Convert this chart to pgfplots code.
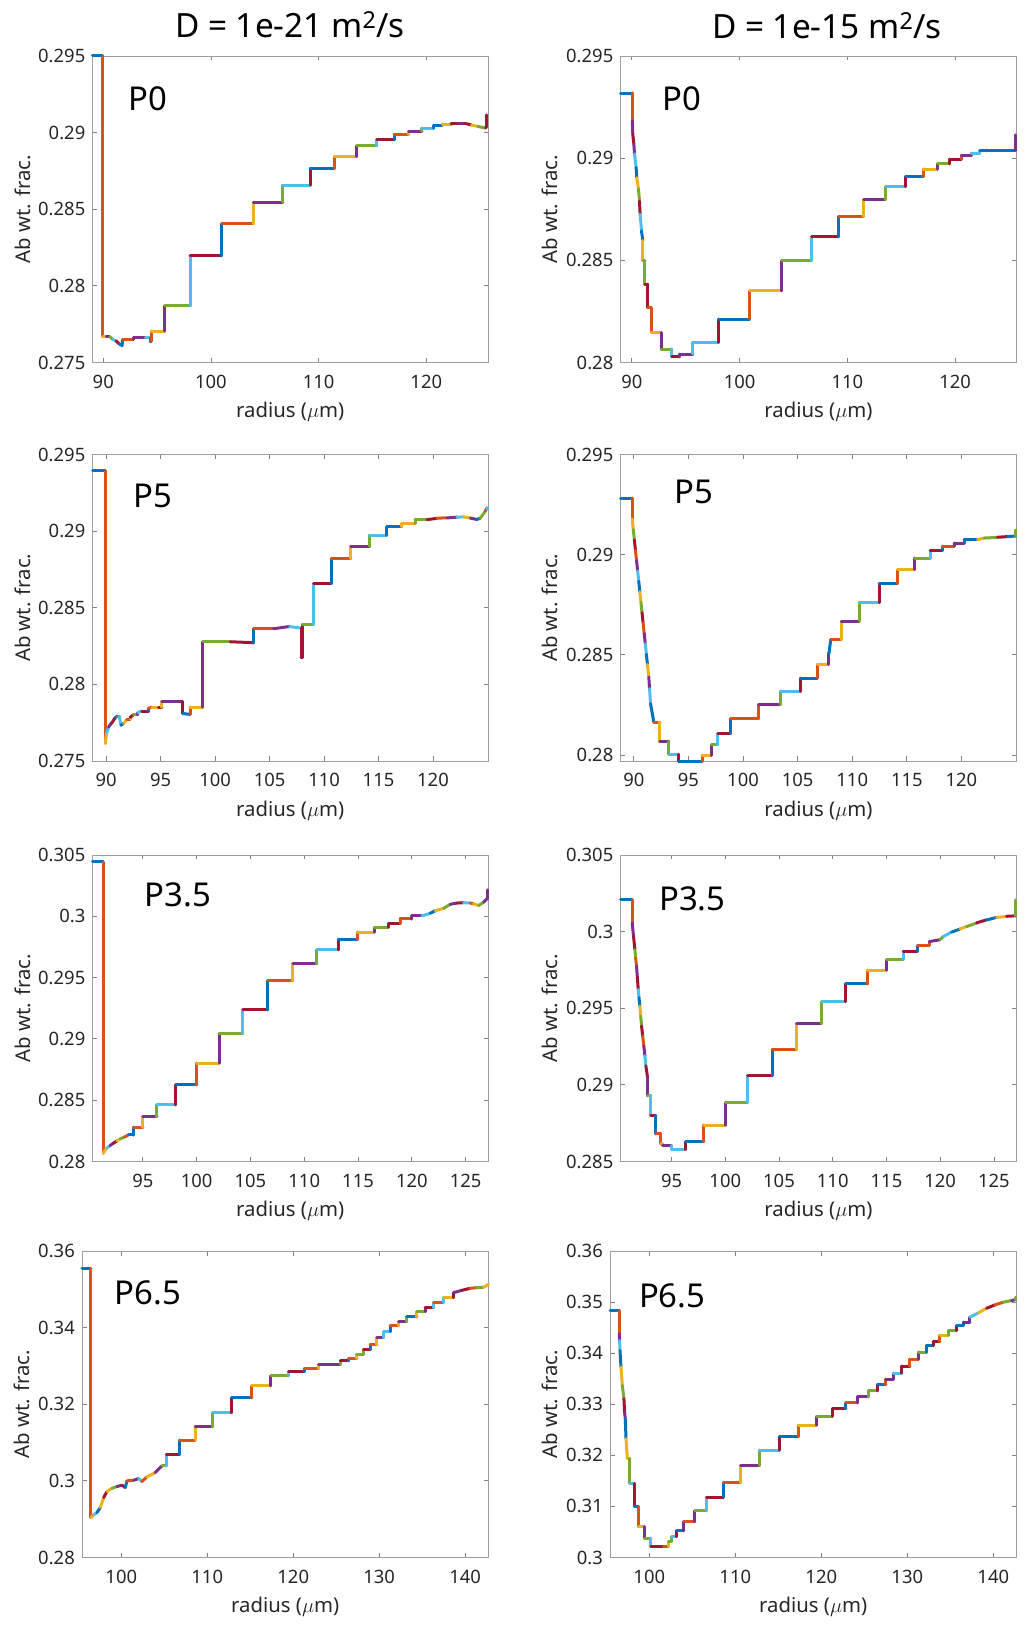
\documentclass[border=0pt]{standalone}
\usepackage{fontspec}
\setmainfont{Noto Sans}
\usepackage{pgfplots}
\usepackage{pgfplotstable}
\pgfplotsset{compat=1.18}
\definecolor{tickgray}{HTML}{262626}

% each table: x y c  (c = colour index of the segment starting at that point)
\pgfplotstableread[row sep=\\]{
x y c\\
89.0 0.2950 0\\ 89.95 0.2950 1\\ 89.95 0.27668 2\\ 90.3 0.27668 3\\ 90.6 0.27668 4\\
90.9 0.2765 5\\ 91.2 0.2764 6\\ 91.5 0.2762 0\\ 91.75 0.2761 0\\ 91.8 0.2765 1\\
92.8 0.2765 3\\ 92.8 0.2766 3\\ 93.9 0.2766 5\\ 94.35 0.2766 0\\ 94.35 0.2764 0\\
94.45 0.2764 1\\ 94.45 0.27705 2\\ 95.73 0.27705 3\\ 95.73 0.27869 4\\ 98.06 0.27869 5\\
98.06 0.28197 6\\ 101.0 0.28197 0\\ 101.0 0.28404 1\\ 103.94 0.28404 2\\ 103.94 0.28546 3\\
106.67 0.28546 4\\ 106.67 0.28657 5\\ 109.2 0.28657 6\\ 109.2 0.28766 0\\ 111.47 0.28766 1\\
111.47 0.28843 2\\ 113.55 0.28843 3\\ 113.55 0.28913 4\\ 115.4 0.28913 5\\ 115.4 0.28954 6\\
117.0 0.28954 0\\ 117.0 0.28987 1\\ 118.35 0.28987 2\\ 118.35 0.29009 3\\ 119.6 0.29009 4\\
119.6 0.2903 5\\ 120.7 0.2903 0\\ 120.7 0.29048 0\\ 121.5 0.29048 1\\ 121.5 0.29055 2\\
122.3 0.29055 4\\ 122.3 0.2906 6\\ 123.0 0.2906 3\\ 123.6 0.2906 6\\ 124.2 0.2905 2\\
124.8 0.2904 4\\ 125.5 0.2903 6\\ 125.6 0.2904 6\\ 125.6 0.29116 6\\
}\dA
\pgfplotstableread[row sep=\\]{
x y c\\
88.95 0.29318 0\\ 90.05 0.29318 1\\ 90.05 0.29183 3\\ 90.09 0.29117 6\\ 90.19 0.29069 3\\
90.25 0.2902 5\\ 90.4 0.28954 0\\ 90.46 0.28905 2\\ 90.62 0.28848 4\\ 90.71 0.28791 6\\
90.77 0.28726 5\\ 90.9 0.28644 0\\ 91.02 0.28595 2\\ 91.02 0.28498 4\\ 91.21 0.28498 4\\
91.21 0.28383 6\\ 91.49 0.28383 6\\ 91.49 0.28269 1\\ 91.8 0.28269 1\\ 91.8 0.28147 2\\
92.72 0.28147 3\\ 92.72 0.28065 4\\ 93.72 0.28065 5\\ 93.72 0.28028 6\\ 94.43 0.28028 3\\
94.43 0.28041 3\\ 95.67 0.28041 5\\ 95.67 0.28098 5\\ 98.05 0.28098 6\\ 98.05 0.28212 0\\
100.93 0.28212 1\\ 100.93 0.2835 2\\ 103.93 0.2835 3\\ 103.93 0.28498 4\\ 106.69 0.28498 5\\
106.69 0.28615 6\\ 109.2 0.28615 0\\ 109.2 0.28715 1\\ 111.52 0.28715 2\\ 111.52 0.28796 3\\
113.56 0.28796 4\\ 113.56 0.28861 5\\ 115.39 0.28861 6\\ 115.39 0.2891 0\\ 117.03 0.2891 1\\
117.03 0.28946 2\\ 118.36 0.28946 3\\ 118.36 0.28972 4\\ 119.5 0.28972 6\\ 119.5 0.28995 6\\
120.59 0.28995 1\\ 120.59 0.29015 3\\ 121.52 0.29015 3\\ 121.52 0.29024 5\\ 122.29 0.29024 5\\
122.29 0.29036 0\\ 122.91 0.29036 0\\ 122.91 0.29039 0\\ 125.63 0.29039 3\\ 125.63 0.29114 3\\
}\dB
\pgfplotstableread[row sep=\\]{
x y c\\
88.75 0.29396 0\\ 89.91 0.29396 1\\ 89.91 0.27615 2\\ 90.05 0.27685 5\\ 90.21 0.2772 3\\
90.52 0.2775 6\\ 90.83 0.27783 0\\ 91.04 0.27793 1\\ 91.2 0.27793 5\\ 91.35 0.27733 0\\
91.6 0.27745 2\\ 91.9 0.27772 1\\ 92.2 0.27772 2\\ 92.2 0.27785 6\\ 92.51 0.27802 4\\
92.9 0.27802 3\\ 92.9 0.27815 5\\ 93.28 0.27826 6\\ 93.9 0.27826 0\\ 93.9 0.27845 1\\
94.19 0.27852 2\\ 94.8 0.27852 6\\ 95.11 0.27852 2\\ 95.11 0.27889 3\\ 97.0 0.27889 6\\
97.0 0.27811 0\\ 97.71 0.27804 1\\ 97.71 0.27852 2\\ 98.88 0.27852 3\\ 98.88 0.28278 4\\
101.39 0.28278 6\\ 103.53 0.28272 0\\ 103.53 0.28363 1\\ 105.37 0.28363 3\\ 106.84 0.28378 5\\
107.9 0.28367 6\\ 107.9 0.28174 6\\ 108.0 0.28174 6\\ 108.0 0.28391 4\\ 109.04 0.28391 5\\
109.04 0.28657 6\\ 110.66 0.28657 0\\ 110.66 0.28822 1\\ 112.47 0.28822 2\\ 112.47 0.28902 3\\
114.18 0.28902 4\\ 114.18 0.28974 5\\ 115.77 0.28974 0\\ 115.77 0.29028 0\\ 117.15 0.29028 2\\
117.15 0.2905 2\\ 118.37 0.2905 4\\ 118.37 0.29076 4\\ 119.45 0.29076 6\\ 120.36 0.29083 1\\
121.28 0.29087 3\\ 122.2 0.29091 5\\ 122.81 0.29093 2\\ 123.43 0.29085 3\\ 124.04 0.29076 0\\
124.34 0.29085 4\\ 124.8 0.2913 1\\ 124.95 0.29152 5\\ 125.05 0.2914 5\\
}\dC
\pgfplotstableread[row sep=\\]{
x y c\\
88.78 0.29282 0\\ 89.85 0.29282 1\\ 89.85 0.29178 2\\ 89.95 0.29126 4\\ 90.05 0.29074 6\\
90.15 0.29022 1\\ 90.25 0.2897 3\\ 90.35 0.28918 5\\ 90.45 0.28867 0\\ 90.55 0.28815 2\\
90.65 0.28763 4\\ 90.75 0.28711 6\\ 90.85 0.28659 1\\ 90.95 0.28607 3\\ 91.05 0.28555 5\\
91.15 0.28503 0\\ 91.25 0.28451 2\\ 91.37 0.28389 3\\ 91.44 0.28331 5\\ 91.53 0.28256 0\\
91.83 0.28164 1\\ 92.38 0.28164 2\\ 92.38 0.28065 3\\ 93.21 0.28065 4\\ 93.21 0.28003 5\\
94.12 0.28003 6\\ 94.12 0.27968 0\\ 96.26 0.27968 1\\ 96.26 0.27998 2\\ 97.09 0.27998 3\\
97.09 0.28051 4\\ 97.7 0.28051 5\\ 97.7 0.28106 6\\ 98.86 0.28106 0\\ 98.86 0.28181 1\\
101.46 0.28181 1\\ 101.46 0.28252 3\\ 103.44 0.28252 4\\ 103.44 0.28319 5\\ 105.28 0.28319 6\\
105.28 0.28384 0\\ 106.8 0.28384 1\\ 106.8 0.28452 2\\ 107.87 0.28452 3\\ 107.87 0.28508 0\\
108.03 0.28576 1\\ 109.0 0.28576 2\\ 109.0 0.28668 3\\ 110.62 0.28668 4\\ 110.62 0.28762 5\\
112.46 0.28762 6\\ 112.46 0.28854 0\\ 114.14 0.28854 1\\ 114.14 0.28925 2\\ 115.73 0.28925 3\\
115.73 0.28983 4\\ 117.13 0.28983 5\\ 117.13 0.2902 6\\ 118.26 0.2902 0\\ 118.26 0.29043 1\\
119.33 0.29043 3\\ 119.33 0.29058 3\\ 120.25 0.29058 0\\ 120.25 0.29075 0\\ 121.47 0.29075 2\\
122.08 0.29083 4\\ 123.3 0.29086 6\\ 124.22 0.2909 0\\ 124.98 0.29093 4\\ 124.98 0.29123 4\\
}\dD
\pgfplotstableread[row sep=\\]{
x y c\\
90.32 0.30443 0\\ 91.3 0.30443 1\\ 91.3 0.28068 2\\ 91.65 0.28109 5\\ 91.95 0.2813 3\\
92.27 0.2815 6\\ 92.6 0.28168 2\\ 92.89 0.28185 4\\ 93.3 0.282 1\\ 93.67 0.28217 0\\
94.13 0.28217 0\\ 94.13 0.2828 1\\ 95.0 0.2828 2\\ 95.0 0.28367 3\\ 96.3 0.28367 4\\
96.3 0.28462 5\\ 98.07 0.28462 6\\ 98.07 0.28625 0\\ 100.02 0.28625 1\\ 100.02 0.28802 2\\
102.1 0.28802 3\\ 102.1 0.29046 4\\ 104.3 0.29046 5\\ 104.3 0.29236 6\\ 106.62 0.29236 0\\
106.62 0.29476 1\\ 108.94 0.29476 2\\ 108.94 0.29611 3\\ 111.18 0.29611 4\\ 111.18 0.29726 5\\
113.19 0.29726 6\\ 113.19 0.29813 0\\ 114.96 0.29813 1\\ 114.96 0.2987 2\\ 116.51 0.2987 3\\
116.51 0.2991 4\\ 117.84 0.2991 6\\ 117.84 0.29943 6\\ 118.92 0.29943 1\\ 118.92 0.29978 1\\
120.01 0.29978 3\\ 120.01 0.30003 3\\ 120.94 0.30003 5\\ 121.71 0.30024 0\\ 122.18 0.30045 2\\
122.95 0.30065 4\\ 123.57 0.30098 3\\ 124.19 0.30108 6\\ 124.81 0.30111 5\\ 125.43 0.30108 1\\
125.74 0.30101 2\\ 126.21 0.30087 4\\ 126.67 0.30115 3\\ 127.04 0.30147 3\\ 127.04 0.30215 3\\
}\dE
\pgfplotstableread[row sep=\\]{
x y c\\
90.25 0.30207 0\\ 91.34 0.30207 1\\ 91.34 0.30056 3\\ 91.46 0.2997 6\\ 91.59 0.29882 4\\
91.66 0.2983 1\\ 91.74 0.29774 3\\ 91.82 0.297 6\\ 91.9 0.29622 5\\ 91.97 0.2957 0\\
92.05 0.29514 2\\ 92.13 0.2945 4\\ 92.21 0.29384 6\\ 92.31 0.2932 1\\ 92.42 0.29254 3\\
92.52 0.2919 5\\ 92.61 0.29124 6\\ 92.77 0.29048 3\\ 92.77 0.28929 4\\ 93.08 0.28929 5\\
93.08 0.28799 6\\ 93.54 0.28799 0\\ 93.54 0.2868 1\\ 94.0 0.2868 1\\ 94.0 0.28615 2\\
94.16 0.28615 2\\ 94.16 0.28604 3\\ 95.0 0.28604 5\\ 95.0 0.28578 5\\ 96.3 0.28578 6\\
96.3 0.2863 0\\ 98.01 0.2863 1\\ 98.01 0.28738 2\\ 100.03 0.28738 3\\ 100.03 0.28886 4\\
102.07 0.28886 5\\ 102.07 0.29059 6\\ 104.37 0.29059 0\\ 104.37 0.29232 1\\ 106.64 0.29232 2\\
106.64 0.29401 3\\ 108.96 0.29401 4\\ 108.96 0.29542 5\\ 111.2 0.29542 6\\ 111.2 0.29659 0\\
113.21 0.29659 1\\ 113.21 0.29748 2\\ 115.01 0.29748 3\\ 115.01 0.29817 4\\ 116.56 0.29817 5\\
116.56 0.29872 6\\ 117.87 0.29872 0\\ 117.87 0.29911 1\\ 118.98 0.29911 1\\ 118.98 0.29935 3\\
119.98 0.29947 4\\ 120.29 0.29969 5\\ 121.06 0.29997 0\\ 121.84 0.30017 2\\ 122.46 0.30034 4\\
123.39 0.30056 6\\ 124.32 0.30077 0\\ 125.25 0.30093 2\\ 126.18 0.30099 6\\ 127.02 0.30103 4\\
127.02 0.30207 4\\
}\dF
\pgfplotstableread[row sep=\\]{
x y c\\
95.43 0.35539 0\\ 96.47 0.35539 1\\ 96.47 0.29043 2\\ 96.8 0.2912 5\\ 97.17 0.29174 0\\
97.56 0.29304 2\\ 97.95 0.29565 6\\ 98.33 0.29722 2\\ 98.91 0.29809 4\\ 99.5 0.29852 3\\
100.08 0.29887 6\\ 100.47 0.29826 0\\ 100.66 0.3 1\\ 101.43 0.30017 3\\ 102.02 0.30061 5\\
102.4 0.29983 1\\ 102.98 0.30104 2\\ 103.95 0.30217 3\\ 104.73 0.30391 4\\ 105.23 0.30391 5\\
105.23 0.30696 6\\ 106.78 0.30696 0\\ 106.78 0.31061 1\\ 108.6 0.31061 2\\ 108.6 0.31409 3\\
110.62 0.31409 4\\ 110.62 0.31783 5\\ 112.87 0.31783 6\\ 112.87 0.32174 0\\ 115.19 0.32174 1\\
115.19 0.32478 2\\ 117.4 0.32478 3\\ 117.4 0.32739 4\\ 119.46 0.32739 5\\ 119.46 0.32852 6\\
121.28 0.32852 0\\ 121.28 0.32939 1\\ 122.95 0.32939 2\\ 122.95 0.33043 3\\ 124.3 0.33043 3\\
125.47 0.33043 4\\ 125.47 0.3313 6\\ 126.43 0.3313 0\\ 126.43 0.332 1\\ 127.4 0.332 2\\
127.4 0.33304 4\\ 128.18 0.33304 4\\ 128.18 0.33435 6\\ 128.95 0.33435 0\\ 128.95 0.33565 1\\
129.73 0.33565 2\\ 129.73 0.33739 3\\ 130.5 0.33739 5\\ 130.5 0.33896 5\\ 131.28 0.33896 0\\
131.28 0.34043 1\\ 132.25 0.34043 2\\ 132.25 0.34157 3\\ 133.22 0.34157 4\\ 133.22 0.34278 0\\
134.38 0.34278 2\\ 134.38 0.34417 4\\ 135.35 0.34417 3\\ 135.35 0.34522 6\\ 136.32 0.34522 5\\
136.32 0.34652 1\\ 137.48 0.34652 5\\ 137.48 0.34783 2\\ 138.64 0.34783 6\\ 138.64 0.34913 3\\
139.61 0.34974 6\\ 140.58 0.35026 1\\ 141.36 0.35043 4\\ 142.13 0.3505 2\\ 142.71 0.3513 2\\
}\dG
\pgfplotstableread[row sep=\\]{
x y c\\
95.43 0.34834 0\\ 96.51 0.34834 1\\ 96.51 0.34379 3\\ 96.55 0.34249 5\\ 96.59 0.34053 0\\
96.71 0.33728 2\\ 96.86 0.3337 4\\ 97.05 0.3311 6\\ 97.12 0.3285 3\\ 97.21 0.3272 0\\
97.29 0.32329 2\\ 97.44 0.31939 2\\ 97.75 0.31939 4\\ 97.75 0.31451 5\\ 98.26 0.31451 6\\
98.26 0.30995 0\\ 98.76 0.30995 1\\ 98.76 0.30605 2\\ 99.42 0.30605 3\\ 99.42 0.30377 4\\
100.19 0.30377 5\\ 100.19 0.30215 6\\ 101.63 0.30215 1\\ 102.21 0.30215 2\\ 102.21 0.30312 4\\
102.6 0.30312 4\\ 102.6 0.3041 5\\ 103.18 0.3041 6\\ 103.18 0.3052 0\\ 104.03 0.3052 3\\
104.03 0.30703 1\\ 105.31 0.30703 3\\ 105.31 0.30911 4\\ 106.67 0.30911 5\\ 106.67 0.31184 6\\
108.6 0.31184 0\\ 108.6 0.3147 1\\ 110.62 0.3147 2\\ 110.62 0.31796 3\\ 112.79 0.31796 4\\
112.79 0.32102 5\\ 115.12 0.32102 6\\ 115.12 0.32368 0\\ 117.33 0.32368 1\\ 117.33 0.32589 2\\
119.46 0.32589 3\\ 119.46 0.32765 4\\ 121.28 0.32765 6\\ 121.28 0.32915 6\\ 122.87 0.32915 0\\
122.87 0.33025 1\\ 124.19 0.33025 3\\ 124.19 0.33142 3\\ 125.47 0.33142 4\\ 125.47 0.3326 4\\
126.51 0.3326 6\\ 126.51 0.3339 0\\ 127.52 0.3339 1\\ 127.52 0.33494 3\\ 128.37 0.33494 3\\
128.37 0.33611 5\\ 129.34 0.33611 6\\ 129.34 0.33748 6\\ 130.31 0.33748 1\\ 130.31 0.33884 1\\
131.28 0.33884 3\\ 131.28 0.34021 4\\ 132.25 0.34021 0\\ 132.25 0.34151 0\\ 133.02 0.34151 6\\
133.02 0.34229 6\\ 133.8 0.34229 1\\ 133.8 0.34346 2\\ 134.77 0.34346 4\\ 134.77 0.34444 4\\
135.74 0.34444 6\\ 135.74 0.34541 0\\ 136.51 0.34541 0\\ 136.51 0.34606 3\\ 137.29 0.34606 3\\
137.29 0.34704 5\\ 138.26 0.34789 2\\ 139.22 0.3488 6\\ 140.19 0.34945 1\\ 141.16 0.34997 4\\
142.13 0.3503 3\\ 142.6 0.35049 4\\ 142.6 0.35094 4\\
}\dH

% segment vectors: from each point back to the previous one, coloured by the previous point's index
\newcommand{\prepseg}[1]{%
  \pgfplotstablecreatecol[create col/assign/.code={%
    \ifnum\pgfplotstablerow=0 \def\entry{0}\else
      \pgfmathparse{\prevrow{x}-\thisrow{x}}\let\entry\pgfmathresult\fi
    \pgfkeyslet{/pgfplots/table/create col/next content}\entry}]{u}#1%
  \pgfplotstablecreatecol[create col/assign/.code={%
    \ifnum\pgfplotstablerow=0 \def\entry{0}\else
      \pgfmathparse{\prevrow{y}-\thisrow{y}}\let\entry\pgfmathresult\fi
    \pgfkeyslet{/pgfplots/table/create col/next content}\entry}]{v}#1%
  \pgfplotstablecreatecol[create col/assign/.code={%
    \ifnum\pgfplotstablerow=0 \def\entry{0}\else
      \edef\entry{\prevrow{c}}\fi
    \pgfkeyslet{/pgfplots/table/create col/next content}\entry}]{pc}#1%
}
\prepseg\dA \prepseg\dB \prepseg\dC \prepseg\dD
\prepseg\dE \prepseg\dF \prepseg\dG \prepseg\dH

\pgfplotsset{
  panel/.style={
    scale only axis, clip=false, anchor=south west,
    axis line style={draw=black!38, line width=0.8bp},
    every tick/.style={draw=black!50, line width=0.8bp},
    major tick length=4.5bp, tick align=inside,
    xtick pos=both, ytick pos=both,
    xticklabel pos=lower, yticklabel pos=left,
    minor tick num=0, scaled ticks=false,
    /pgf/number format/assume math mode=true,
    yticklabel style={/pgf/number format/fixed, /pgf/number format/precision=3},
    tick label style={font=\fontsize{18.5}{20}\selectfont, text=tickgray},
    xticklabel style={anchor=base, yshift=-26bp, inner sep=0pt},
    yticklabel style={anchor=east, xshift=-7bp, inner sep=0pt},
    label style={font=\fontsize{20.4}{24}\selectfont, text=tickgray, inner sep=0pt},
    xlabel={radius ($\mu$m)}, ylabel={Ab wt. frac.},
    xlabel style={at={(axis description cs:0.5,-0.1795)}, anchor=base},
    colormap={mcyc}{rgb255=(0,114,189) rgb255=(217,83,25) rgb255=(237,177,32) rgb255=(126,47,142) rgb255=(119,172,48) rgb255=(77,190,238) rgb255=(162,20,47)},
    point meta min=0, point meta max=6,
  },
  ylabx/.style={ylabel style={at={(axis description cs:#1,0.5)}, anchor=base}},
  seg/.style={quiver={u=\thisrow{u}, v=\thisrow{v}, colored=mapped color,
      every arrow/.append style={line width=3bp, line cap=round}},
    line width=3bp, point meta=explicit, skip coords between index={0}{1}},
}
\newcommand{\plab}[3]{\node[anchor=base west, font=\fontsize{33}{33}\selectfont, text=black, inner sep=0pt] at (rel axis cs:#1,#2) {#3};}
\begin{document}
\begin{tikzpicture}
\path[use as bounding box] (0,0) rectangle (1031bp,1628bp);
\node[anchor=base, font=\fontsize{33.5}{33.5}\selectfont, inner sep=0pt] at (290bp,1590bp) {D = 1e-21 m\textsuperscript{2}/s};
\node[anchor=base, font=\fontsize{33.5}{33.5}\selectfont, inner sep=0pt] at (827bp,1589.5bp) {D = 1e-15 m\textsuperscript{2}/s};

\begin{axis}[panel, ylabx=-0.157, at={(92.5bp,1265.5bp)}, width=395.5bp, height=306.5bp,
  xmin=89, xmax=125.73, ymin=0.275, ymax=0.295,
  xtick={90,100,110,120}, ytick={0.275,0.28,0.285,0.29,0.295}]
\addplot[seg] table[x=x,y=y,meta=pc] {\dA};
\plab{0.091}{0.823}{P0}
\end{axis}

\begin{axis}[panel, ylabx=-0.159, at={(620.5bp,1265.5bp)}, width=396bp, height=306.5bp,
  xmin=88.95, xmax=125.7, ymin=0.28, ymax=0.295,
  xtick={90,100,110,120}, ytick={0.28,0.285,0.29,0.295}]
\addplot[seg] table[x=x,y=y,meta=pc] {\dB};
\plab{0.105}{0.821}{P0}
\end{axis}

\begin{axis}[panel, ylabx=-0.157, at={(92.5bp,867bp)}, width=395.5bp, height=306.5bp,
  xmin=88.74, xmax=125.05, ymin=0.275, ymax=0.295,
  xtick={90,95,...,120}, ytick={0.275,0.28,0.285,0.29,0.295}]
\addplot[seg] table[x=x,y=y,meta=pc] {\dC};
\plab{0.104}{0.826}{P5}
\end{axis}

\begin{axis}[panel, ylabx=-0.159, at={(620.5bp,867bp)}, width=396bp, height=306.5bp,
  xmin=88.78, xmax=125.04, ymin=0.2797, ymax=0.295,
  xtick={90,95,...,120}, ytick={0.28,0.285,0.29,0.295}]
\addplot[seg] table[x=x,y=y,meta=pc] {\dD};
\plab{0.135}{0.839}{P5}
\end{axis}

\begin{axis}[panel, ylabx=-0.157, at={(92.5bp,466.5bp)}, width=395.5bp, height=306.5bp,
  xmin=90.32, xmax=127.08, ymin=0.28, ymax=0.305,
  xtick={95,100,...,125}, ytick={0.28,0.285,0.29,0.295,0.3,0.305}]
\addplot[seg] table[x=x,y=y,meta=pc] {\dE};
\plab{0.131}{0.833}{P3.5}
\end{axis}

\begin{axis}[panel, ylabx=-0.159, at={(620.5bp,466.5bp)}, width=396bp, height=306.5bp,
  xmin=90.25, xmax=127.1, ymin=0.285, ymax=0.305,
  xtick={95,100,...,125}, ytick={0.285,0.29,0.295,0.3,0.305}]
\addplot[seg] table[x=x,y=y,meta=pc] {\dF};
\plab{0.097}{0.819}{P3.5}
\end{axis}

\begin{axis}[panel, ylabx=-0.129, at={(82bp,70.5bp)}, width=406.5bp, height=306.5bp,
  xmin=95.43, xmax=142.71, ymin=0.28, ymax=0.36,
  xtick={100,110,...,140}, ytick={0.28,0.3,0.32,0.34,0.36}]
\addplot[seg] table[x=x,y=y,meta=pc] {\dG};
\plab{0.080}{0.827}{P6.5}
\end{axis}

\begin{axis}[panel, ylabx=-0.129, at={(610bp,70.5bp)}, width=406.5bp, height=306.5bp,
  xmin=95.43, xmax=142.7, ymin=0.3, ymax=0.36,
  xtick={100,110,...,140}, ytick={0.3,0.31,0.32,0.33,0.34,0.35,0.36}]
\addplot[seg] table[x=x,y=y,meta=pc] {\dH};
\plab{0.071}{0.817}{P6.5}
\end{axis}
\end{tikzpicture}
\end{document}
